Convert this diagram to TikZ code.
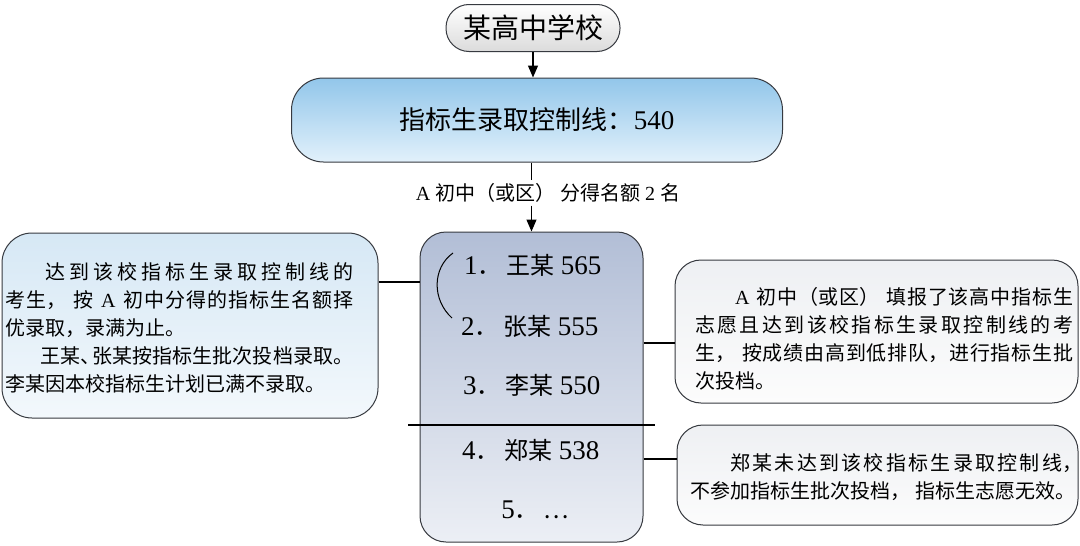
\documentclass[tikz,border=0pt]{standalone}
\usepackage{fontspec}
\setmainfont{Liberation Serif}
\newfontfamily\cjk{Noto Sans CJK SC}
\XeTeXlinebreaklocale "zh"
\XeTeXlinebreakskip=0pt plus 1pt
\usetikzlibrary{arrows.meta, positioning}
\definecolor{edgegray}{RGB}{55, 58, 64}
\definecolor{ctrltop}{RGB}{146, 198, 234}
\definecolor{ctrlbot}{RGB}{226, 241, 251}
\definecolor{listtop}{RGB}{178, 190, 214}
\definecolor{listbot}{RGB}{236, 239, 245}
\definecolor{ruletop}{RGB}{214, 232, 245}
\definecolor{rulebot}{RGB}{243, 248, 252}
\definecolor{notetop}{RGB}{238, 240, 243}
\definecolor{notebot}{RGB}{252, 252, 252}
\newcommand{\hz}[1]{{\cjk\fontsize{24}{28}\selectfont #1}}

\begin{document}
\begin{tikzpicture}[
    x=1pt, y=-1pt,
    box/.style={rectangle, rounded corners=28pt, draw=edgegray, line width=1pt},
    note/.style={anchor=west, align=justify, inner sep=0pt, font=\fontsize{20}{28}\selectfont, execute at begin node={\parindent=0pt\parskip=0pt}},
    item/.style={anchor=west, inner sep=0pt, font=\fontsize{27}{28}\selectfont},
    arr/.style={-{Triangle[length=12pt, width=10pt]}, line width=1.2pt},
    link/.style={line width=1.2pt},
]
\useasboundingbox[fill=white] (0,0) rectangle (1080,546);

% School and control line (top)
\node[box, rounded corners=23pt, minimum width=174pt, minimum height=47pt, top color=white, bottom color=gray!28, font=\cjk\fontsize{28}{30}\selectfont] (school) at (533,28) {某高中学校};
\node[box, rounded corners=32pt, minimum width=491pt, minimum height=84pt, top color=ctrltop, bottom color=ctrlbot, font=\fontsize{27}{30}\selectfont] (ctrl) at (537,120) {{\cjk\fontsize{26}{30}\selectfont 指标生录取控制线：}540};
\node[font=\fontsize{20}{24}\selectfont, inner sep=3pt] (quota) at (548,193) {A {\cjk 初中（或区）} {\cjk 分得名额} 2 {\cjk 名}};

% Ranked candidates (middle)
\node[box, rounded corners=26pt, minimum width=223pt, minimum height=310pt, top color=listtop, bottom color=listbot] (list) at (531.5,387) {};
\node[item] (wang) at (464,265) {1\hz{．}\,\hz{王某} 565};
\node[item] (zhang) at (461,326) {2\hz{．}\,\hz{张某} 555};
\node[item] (li) at (463,385) {3\hz{．}\,\hz{李某} 550};
\node[item] (zheng) at (462,450) {4\hz{．}\,\hz{郑某} 538};
\node[item, anchor=center] (more) at (535,510) {5\hz{．}\,\hz{…}};

\coordinate (brtop) at (453,253);
\coordinate (brbot) at (452,318);
\coordinate (brmid) at (437,282);
\coordinate (cutL) at (408,425);
\coordinate (cutR) at (655,425);

% Notes (left and right)
\node[box, rounded corners=30pt, minimum width=376pt, minimum height=185pt, top color=ruletop, bottom color=rulebot] (rule) at (190,325.5) {};
\node[note, text width=348pt] (ruletxt) at (5,328) {\hspace*{2em}{\cjk 达到该校指标生录取控制线的}\linebreak{\cjk 考生，} {\cjk 按} A {\cjk 初中分得的指标生名额择}\linebreak{\cjk 优录取，录满为止。}\par\hspace*{1.75em}{\cjk 王某、\kern-0.4em 张某按指标生批次投档录取。}\linebreak{\cjk 李某因本校指标生计划已满不录取。}};

\node[box, rounded corners=26pt, minimum width=403pt, minimum height=143pt, top color=notetop, bottom color=notebot] (apply) at (876.5,331.5) {};
\node[note, text width=378pt] (applytxt) at (695,338.5) {\hspace*{2em}A {\cjk 初中（或区）} {\cjk 填报了该高中指标生}\linebreak{\cjk 志愿且达到该校指标生录取控制线的考}\linebreak{\cjk 生，} {\cjk 按成绩由高到低排队，进行指标生批}\linebreak{\cjk 次投档。}};

\node[box, rounded corners=26pt, minimum width=401pt, minimum height=100pt, top color=notetop, bottom color=notebot] (fail) at (877.5,475) {};
\node[note, text width=392pt] (failtxt) at (690,477.5) {\hspace*{2em}{\cjk 郑某未达到该校指标生录取控制线，}\linebreak{\cjk 不参加指标生批次投档，} {\cjk 指标生志愿无效。}};

\coordinate (applyjoin) at ([yshift=-11.5pt]apply.west);
\coordinate (failjoin) at ([yshift=16pt]fail.west);

% Connectors
\draw[arr] (school.south) -- (school.south |- ctrl.north);
\draw[link] (ctrl.south -| list.north) -- (quota.north -| list.north);
\draw[arr] (quota.south -| list.north) -- (list.north);
\draw[link] (cutL) -- (cutR);
\draw[link, line width=1pt] (brtop) .. controls (432,268) and (432,300) .. (brbot);
\draw[link] (rule.east |- brmid) -- (list.west |- brmid);
\draw[link] (list.east |- applyjoin) -- (applyjoin);
\draw[link] (list.east |- failjoin) -- (failjoin);

\end{tikzpicture}
\end{document}
